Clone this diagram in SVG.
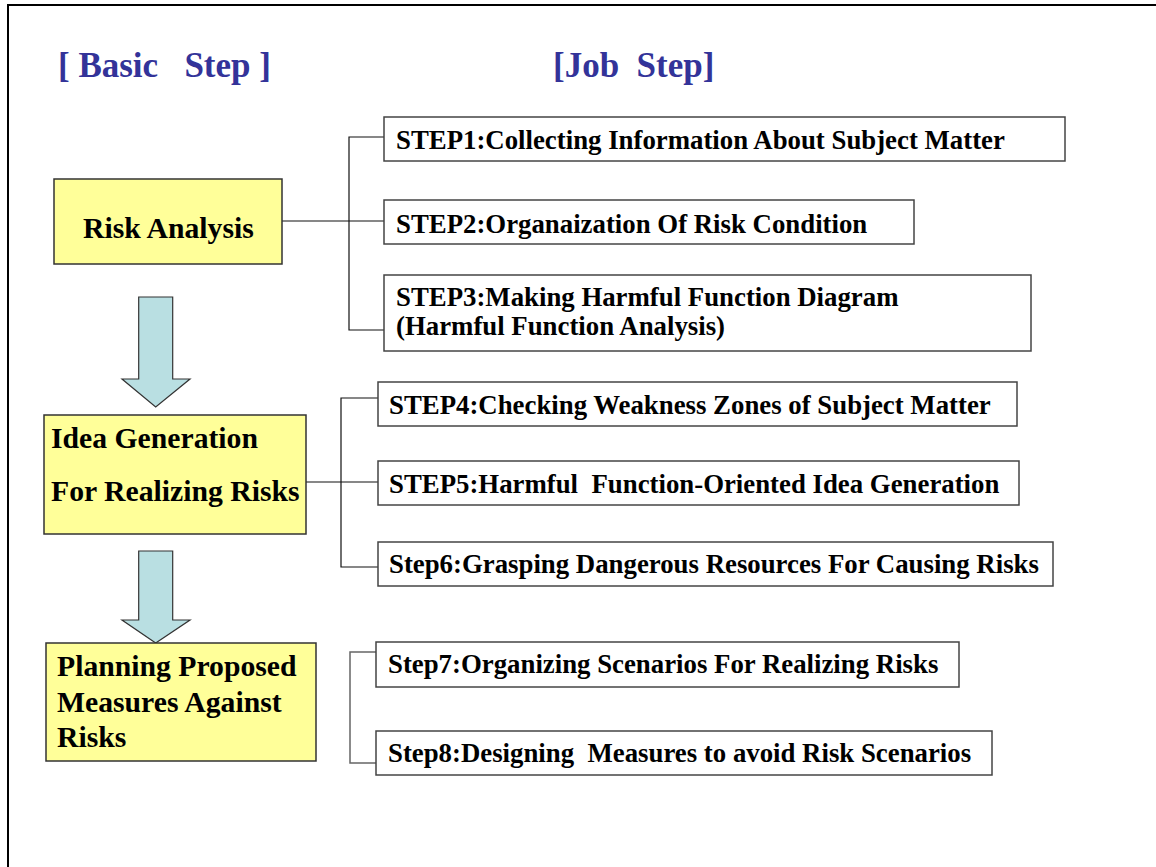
<svg xmlns="http://www.w3.org/2000/svg" width="1156" height="867" viewBox="0 0 1156 867">
  <style>
    .title { font-family: "Liberation Serif", "Times New Roman", serif; font-weight: bold; font-size: 35px; fill: #333399; white-space: pre; }
    .ntext { font-family: "Liberation Serif", "Times New Roman", serif; font-weight: bold; font-size: 29.7px; fill: #000; }
    .stext { font-family: "Liberation Serif", "Times New Roman", serif; font-weight: bold; font-size: 26.8px; fill: #000; white-space: pre; }
    .nbox { fill: #FFFF99; stroke: #333; stroke-width: 1.5; }
    .sbox { fill: #fff; stroke: #444; stroke-width: 1.5; }
    .arrow { fill: #B9DFE2; stroke: #333; stroke-width: 1.2; }
    .conn { fill: none; stroke: #111; stroke-width: 1.2; }
    .conn2 { fill: none; stroke: #666; stroke-width: 1.5; }
  </style>
  <rect width="1156" height="867" fill="#fff"/>
  <path d="M8,867 V5 H1156" fill="none" stroke="#000" stroke-width="2"/>

  <text class="title" x="58" y="77" xml:space="preserve">[ Basic   Step ]</text>
  <text class="title" x="553" y="77" xml:space="preserve">[Job  Step]</text>

  <g id="connectors">
    <path class="conn" d="M282,221 H384"/>
    <path class="conn" d="M384,137 H349 V330 H384"/>
    <path class="conn" d="M306,482 H378"/>
    <path class="conn" d="M378,398 H341 V567 H378"/>
    <path class="conn2" d="M376,652 H350 V763 H376"/>
  </g>

  <g id="arrow1">
    <path class="arrow" d="M138.7,297 H172.7 V379 H190 L155.7,407 L122,379 H138.7 Z"/>
  </g>
  <g id="arrow2">
    <path class="arrow" d="M138.7,551 H172.7 V620 H190 L155.7,643 L122,620 H138.7 Z"/>
  </g>

  <g id="risk-analysis">
    <rect class="nbox" x="54" y="179" width="228" height="85"/>
    <text class="ntext" x="83" y="238">Risk Analysis</text>
  </g>
  <g id="idea-generation">
    <rect class="nbox" x="44" y="415" width="262" height="119"/>
    <text class="ntext" x="51" y="448">Idea Generation</text>
    <text class="ntext" x="51" y="501">For Realizing Risks</text>
  </g>
  <g id="planning">
    <rect class="nbox" x="46" y="643" width="270" height="118"/>
    <text class="ntext" x="57" y="676">Planning Proposed</text>
    <text class="ntext" x="57" y="712">Measures Against</text>
    <text class="ntext" x="57" y="747">Risks</text>
  </g>

  <g id="step1">
    <rect class="sbox" x="384" y="117" width="681" height="44"/>
    <text class="stext" x="396" y="149">STEP1:Collecting Information About Subject Matter</text>
  </g>
  <g id="step2">
    <rect class="sbox" x="384" y="200" width="530" height="44"/>
    <text class="stext" x="396" y="232.5">STEP2:Organaization Of Risk Condition</text>
  </g>
  <g id="step3">
    <rect class="sbox" x="384" y="275" width="647" height="76"/>
    <text class="stext" x="396" y="306">STEP3:Making Harmful Function Diagram</text>
    <text class="stext" x="396" y="335">(Harmful Function Analysis)</text>
  </g>
  <g id="step4">
    <rect class="sbox" x="378" y="382" width="639" height="44"/>
    <text class="stext" x="389" y="414">STEP4:Checking Weakness Zones of Subject Matter</text>
  </g>
  <g id="step5">
    <rect class="sbox" x="378" y="461" width="641" height="44"/>
    <text class="stext" x="389" y="493" xml:space="preserve">STEP5:Harmful  Function-Oriented Idea Generation</text>
  </g>
  <g id="step6">
    <rect class="sbox" x="378" y="542" width="675" height="44"/>
    <text class="stext" x="389" y="573">Step6:Grasping Dangerous Resources For Causing Risks</text>
  </g>
  <g id="step7">
    <rect class="sbox" x="376" y="642" width="583" height="45"/>
    <text class="stext" x="388" y="673">Step7:Organizing Scenarios For Realizing Risks</text>
  </g>
  <g id="step8">
    <rect class="sbox" x="376" y="731" width="616" height="44"/>
    <text class="stext" x="388" y="762" xml:space="preserve">Step8:Designing  Measures to avoid Risk Scenarios</text>
  </g>
</svg>
